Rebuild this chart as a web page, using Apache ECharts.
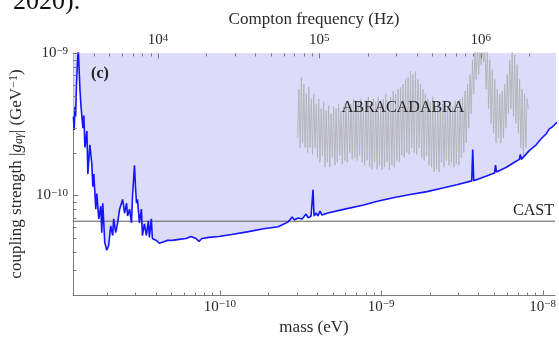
<!DOCTYPE html>
<html><head><meta charset="utf-8">
<script src="https://cdn.jsdelivr.net/npm/echarts@6/dist/echarts.min.js"></script>
<style>html,body{margin:0;padding:0;background:#fff}#c{width:559px;height:341px}</style>
</head><body><div id="c"></div>
<script>
// ---------- data ----------
const massMin = 1.234e-11, massMax = 1.193e-8;   // eV
const gMin = 2e-11, gMax = 1e-9;                 // GeV^-1
const hzPerEv = 2.418e14;                        // Compton frequency per eV
const castLimit = 6.6e-11;

const blueMass = [
 1.239e-11,1.253e-11,1.268e-11,1.279e-11,1.295e-11,1.313e-11,1.328e-11,1.360e-11,1.380e-11,1.419e-11,
 1.439e-11,1.460e-11,1.502e-11,1.523e-11,1.567e-11,1.612e-11,1.635e-11,1.658e-11,1.706e-11,1.730e-11,
 1.780e-11,1.831e-11,1.857e-11,1.884e-11,1.938e-11,1.993e-11,2.050e-11,2.110e-11,2.170e-11,2.201e-11,
 2.264e-11,2.329e-11,2.396e-11,2.500e-11,2.572e-11,2.645e-11,2.683e-11,2.760e-11,2.839e-11,2.879e-11,
 2.962e-11,3.004e-11,3.047e-11,3.090e-11,3.179e-11,3.270e-11,3.317e-11,3.412e-11,3.510e-11,3.611e-11,
 3.663e-11,3.768e-11,3.821e-11,4.045e-11,4.220e-11,4.402e-11,4.725e-11,5.072e-11,5.600e-11,6.181e-11,
 6.634e-11,7.120e-11,7.430e-11,7.752e-11,8.556e-11,9.86e-11,1.185e-10,1.507e-10,1.864e-10,2.304e-10,
 2.654e-10,2.809e-10,2.889e-10,3.058e-10,3.236e-10,3.423e-10,3.523e-10,3.675e-10,3.781e-10,3.835e-10,
 3.945e-10,4.058e-10,4.174e-10,4.294e-10,4.673e-10,5.944e-10,7.667e-10,9.483e-10,1.206e-9,1.512e-9,
 1.923e-9,2.446e-9,2.940e-9,3.636e-9,3.688e-9,3.741e-9,4.495e-9,5.034e-9,5.105e-9,5.178e-9,
 5.965e-9,6.682e-9,7.171e-9,7.273e-9,7.377e-9,8.260e-9,9.12e-9,9.788e-9,1.050e-8,1.096e-8,
 1.144e-8,1.193e-8,1.262e-8
];
const blueCoupling = [
 3.59e-10,2.88e-10,4.20e-10,3.59e-10,6.04e-10,8.68e-10,1.08e-9,5.58e-10,4.27e-10,2.97e-10,
 3.64e-10,2.17e-10,2.83e-10,1.415e-10,2.27e-10,1.656e-10,1.152e-10,1.415e-10,8.02e-11,1.032e-10,
 6.85e-11,8.41e-11,5.49e-11,8.82e-11,4.69e-11,4.13e-11,4.47e-11,6.13e-11,5.24e-11,6.85e-11,
 5.49e-11,6.43e-11,8.02e-11,9.39e-11,7.53e-11,8.82e-11,7.18e-11,8.02e-11,6.43e-11,9.84e-11,
 1.631e-10,1.152e-10,8.82e-11,9.39e-11,6.43e-11,8.02e-11,5.24e-11,6.33e-11,5.24e-11,6.64e-11,
 5.08e-11,6.85e-11,4.99e-11,4.84e-11,4.62e-11,4.69e-11,4.84e-11,4.84e-11,4.92e-11,4.99e-11,
 5.16e-11,4.99e-11,4.77e-11,4.99e-11,5.08e-11,5.16e-11,5.32e-11,5.58e-11,5.85e-11,6.04e-11,
 6.53e-11,7.07e-11,6.74e-11,6.96e-11,6.85e-11,7.41e-11,6.96e-11,7.18e-11,1.099e-10,7.18e-11,
 7.53e-11,7.18e-11,7.77e-11,7.29e-11,7.53e-11,8.02e-11,8.54e-11,9.10e-11,9.69e-11,1.016e-10,
 1.065e-10,1.134e-10,1.190e-10,1.267e-10,2.099e-10,1.267e-10,1.371e-10,1.437e-10,1.631e-10,1.460e-10,
 1.579e-10,1.710e-10,1.792e-10,1.940e-10,1.792e-10,2.066e-10,2.270e-10,2.50e-10,2.70e-10,2.92e-10,
 3.02e-10,3.16e-10,3.36e-10
];

const abraMass = [
 3.035e-10,3.089e-10,3.146e-10,3.202e-10,3.258e-10,3.316e-10,3.376e-10,3.436e-10,3.498e-10,3.560e-10,
 3.623e-10,3.688e-10,3.753e-10,3.820e-10,3.889e-10,3.958e-10,4.029e-10,4.101e-10,4.174e-10,4.248e-10,
 4.324e-10,4.401e-10,4.480e-10,4.560e-10,4.642e-10,4.725e-10,4.808e-10,4.894e-10,4.982e-10,5.071e-10,
 5.162e-10,5.254e-10,5.347e-10,5.442e-10,5.540e-10,5.639e-10,5.740e-10,5.842e-10,5.946e-10,6.052e-10,
 6.160e-10,6.270e-10,6.382e-10,6.496e-10,6.612e-10,6.730e-10,6.851e-10,6.973e-10,7.096e-10,7.223e-10,
 7.352e-10,7.483e-10,7.617e-10,7.753e-10,7.891e-10,8.032e-10,8.176e-10,8.322e-10,8.470e-10,8.621e-10,
 8.775e-10,8.932e-10,9.091e-10,9.253e-10,9.417e-10,9.585e-10,9.756e-10,9.930e-10,1.011e-9,1.029e-9,
 1.047e-9,1.066e-9,1.085e-9,1.104e-9,1.124e-9,1.144e-9,1.165e-9,1.186e-9,1.206e-9,1.228e-9,
 1.250e-9,1.272e-9,1.295e-9,1.318e-9,1.341e-9,1.365e-9,1.390e-9,1.415e-9,1.440e-9,1.466e-9,
 1.492e-9,1.519e-9,1.545e-9,1.573e-9,1.601e-9,1.630e-9,1.659e-9,1.689e-9,1.718e-9,1.749e-9,
 1.780e-9,1.812e-9,1.844e-9,1.877e-9,1.910e-9,1.944e-9,1.979e-9,2.014e-9,2.050e-9,2.087e-9,
 2.124e-9,2.162e-9,2.201e-9,2.240e-9,2.280e-9,2.321e-9,2.362e-9,2.404e-9,2.448e-9,2.492e-9,
 2.535e-9,2.580e-9,2.627e-9,2.674e-9,2.722e-9,2.771e-9,2.819e-9,2.869e-9,2.921e-9,2.973e-9,
 3.027e-9,3.081e-9,3.135e-9,3.191e-9,3.248e-9,3.306e-9,3.365e-9,3.425e-9,3.487e-9,3.549e-9,
 3.612e-9,3.676e-9,3.742e-9,3.809e-9,3.877e-9,3.946e-9,4.017e-9,4.089e-9,4.161e-9,4.235e-9,
 4.311e-9,4.388e-9,4.467e-9,4.547e-9,4.627e-9,4.710e-9,4.794e-9,4.879e-9,4.966e-9,5.055e-9,
 5.145e-9,5.237e-9,5.331e-9,5.426e-9,5.522e-9,5.620e-9,5.721e-9,5.823e-9,5.927e-9,6.033e-9,
 6.140e-9,6.250e-9,6.361e-9,6.474e-9,6.591e-9,6.709e-9,6.827e-9,6.949e-9,7.073e-9,7.199e-9,
 7.328e-9,7.459e-9,7.593e-9,7.728e-9,7.866e-9,8.006e-9,8.148e-9
];
const abraCoupling = [
 2.54e-10,5.58e-10,2.17e-10,6.74e-10,2.34e-10,6.04e-10,2.17e-10,5.16e-10,2.00e-10,5.76e-10,
 2.17e-10,4.76e-10,1.94e-10,5.16e-10,2.17e-10,4.40e-10,1.85e-10,4.76e-10,1.71e-10,4.07e-10,
 1.91e-10,4.55e-10,1.58e-10,3.94e-10,1.71e-10,4.27e-10,1.58e-10,3.76e-10,1.85e-10,4.20e-10,
 1.63e-10,4.07e-10,1.71e-10,4.40e-10,1.91e-10,3.94e-10,1.66e-10,4.20e-10,1.76e-10,4.55e-10,
 1.71e-10,4.07e-10,2.00e-10,4.40e-10,1.79e-10,4.76e-10,1.85e-10,4.20e-10,1.76e-10,4.55e-10,
 1.91e-10,4.76e-10,1.71e-10,4.27e-10,1.63e-10,4.62e-10,1.76e-10,4.92e-10,1.58e-10,4.40e-10,
 1.53e-10,4.76e-10,1.71e-10,4.55e-10,1.53e-10,4.92e-10,1.63e-10,4.27e-10,1.51e-10,4.76e-10,
 1.58e-10,5.16e-10,1.71e-10,4.62e-10,1.51e-10,4.92e-10,1.63e-10,5.40e-10,1.58e-10,5.16e-10,
 1.76e-10,5.58e-10,1.71e-10,5.76e-10,1.91e-10,6.04e-10,1.85e-10,6.53e-10,2.00e-10,6.74e-10,
 1.94e-10,7.41e-10,2.17e-10,7.07e-10,2.00e-10,7.41e-10,1.94e-10,6.53e-10,2.17e-10,6.04e-10,
 1.85e-10,5.58e-10,1.76e-10,5.16e-10,1.91e-10,4.76e-10,1.63e-10,4.55e-10,1.58e-10,4.92e-10,
 1.46e-10,4.27e-10,1.53e-10,4.55e-10,1.46e-10,4.20e-10,1.71e-10,4.40e-10,1.58e-10,4.07e-10,
 1.76e-10,4.27e-10,1.63e-10,4.55e-10,1.71e-10,4.20e-10,1.58e-10,4.62e-10,1.66e-10,4.40e-10,
 1.63e-10,4.76e-10,1.85e-10,4.92e-10,2.00e-10,5.40e-10,2.34e-10,6.04e-10,2.97e-10,7.07e-10,
 3.76e-10,8.95e-10,5.16e-10,1.048e-9,6.53e-10,1.134e-9,7.07e-10,1.134e-9,8.28e-10,1.134e-9,
 8.68e-10,1.048e-9,5.58e-10,1.016e-9,4.07e-10,8.95e-10,3.21e-10,7.65e-10,2.74e-10,6.53e-10,
 2.34e-10,5.58e-10,2.54e-10,5.16e-10,2.34e-10,5.40e-10,2.54e-10,6.04e-10,2.97e-10,7.07e-10,
 3.76e-10,8.95e-10,4.07e-10,1.016e-9,3.59e-10,9.69e-10,3.21e-10,8.28e-10,2.74e-10,6.53e-10,
 2.17e-10,5.58e-10,1.85e-10,5.16e-10,2.17e-10,4.76e-10,4.07e-10
];

// tick values
const massMajorTicks = [1e-10, 1e-9, 1e-8];
const massMinorTicks = [2e-11,3e-11,4e-11,5e-11,6e-11,7e-11,8e-11,9e-11,
  2e-10,3e-10,4e-10,5e-10,6e-10,7e-10,8e-10,9e-10,
  2e-9,3e-9,4e-9,5e-9,6e-9,7e-9,8e-9,9e-9];
const freqMajorTicks = [1e4, 1e5, 1e6];
const freqMinorTicks = [4e3,5e3,6e3,7e3,8e3,9e3,
  2e4,3e4,4e4,5e4,6e4,7e4,8e4,9e4,
  2e5,3e5,4e5,5e5,6e5,7e5,8e5,9e5, 2e6];
const couplingMajorTicks = [1e-10, 1e-9];
const couplingMinorTicks = [3e-11,4e-11,5e-11,6e-11,7e-11,8e-11,9e-11,
  2e-10,3e-10,4e-10,5e-10,6e-10,7e-10,8e-10,9e-10];

// ---------- chart ----------
const serif = '"Liberation Serif", "DejaVu Serif", serif';
const txt = '#2a2a2a';
const axisCol = '#7a7a7a';

function pow10Label(v) {
  const e = Math.log10(v), r = Math.round(e);
  if (Math.abs(e - r) > 1e-6) return '';
  return '{b|10}{s|' + (r < 0 ? '\u2212' + (-r) : String(r)) + '}';
}
const labelRich = {
  b: { fontSize: 15, fontFamily: serif, color: txt },
  s: { fontSize: 11, fontFamily: serif, color: txt, verticalAlign: 'top' }
};

function tickSeries(vals, side, len) {
  const data = vals.map(v => side === 'bottom' ? [v, gMin] : side === 'top' ? [v, gMax] : [massMin, v]);
  return {
    type: 'custom', xAxisIndex: side === 'top' ? 1 : 0, yAxisIndex: 0, silent: true, z: 6, clip: false,
    data: data,
    renderItem: function (params, api) {
      const p = api.coord([api.value(0), api.value(1)]);
      const x = Math.round(p[0]) + 0.5, y = Math.round(p[1]) + 0.5;
      let shape;
      if (side === 'bottom') shape = { x1: x, y1: y, x2: x, y2: y - len };
      else if (side === 'top') shape = { x1: x, y1: y, x2: x, y2: y + len };
      else shape = { x1: x, y1: y, x2: x + len, y2: y };
      return { type: 'line', shape: shape, style: { stroke: axisCol, lineWidth: 1 } };
    }
  };
}

const chart = echarts.init(document.getElementById('c'), null, { renderer: 'canvas' });
const baseAxis = {
  type: 'log', logBase: 10,
  axisLine: { show: true, lineStyle: { color: axisCol, width: 1 } },
  axisTick: { show: false }, minorTick: { show: false },
  splitLine: { show: false }, minorSplitLine: { show: false },
  nameLocation: 'middle',
  nameTextStyle: { fontFamily: serif, fontSize: 17, color: txt }
};
chart.setOption({
  animation: false,
  backgroundColor: '#ffffff',
  grid: { left: 73, right: 0, top: 53, bottom: 41, containLabel: false },
  xAxis: [
    Object.assign({}, baseAxis, {
      position: 'bottom', min: massMin, max: massMax,
      name: 'mass (eV)', nameGap: 22,
      axisLabel: { formatter: pow10Label, rich: labelRich, margin: 4 }
    }),
    Object.assign({}, baseAxis, {
      position: 'top', min: massMin * hzPerEv, max: massMax * hzPerEv,
      name: 'Compton frequency (Hz)', nameGap: 24,
      axisLabel: { formatter: pow10Label, rich: labelRich, margin: 5 }
    })
  ],
  yAxis: [
    Object.assign({}, baseAxis, {
      min: gMin, max: gMax,
      name: 'coupling strength |{i|g}{sub|a\u03B3}| (GeV{sup|\u22121})', nameGap: 46,
      nameTextStyle: {
        fontFamily: serif, fontSize: 17, color: txt,
        rich: {
          i: { fontFamily: serif, fontSize: 17, fontStyle: 'italic', color: txt },
          sub: { fontFamily: serif, fontSize: 12, fontStyle: 'italic', color: txt, verticalAlign: 'bottom' },
          sup: { fontFamily: serif, fontSize: 12, color: txt, verticalAlign: 'top' }
        }
      },
      axisLabel: { formatter: pow10Label, rich: labelRich, margin: 5 }
    })
  ],
  series: [
    { // excluded region fill
      type: 'line', name: 'fill', z: 1, silent: true, clip: true,
      data: blueMass.map((m, i) => [m, blueCoupling[i]]),
      symbol: 'none', lineStyle: { width: 0, opacity: 0 },
      areaStyle: { origin: 'end', color: 'rgb(220,220,250)', opacity: 1 }
    },
    { // ABRACADABRA projection
      type: 'line', name: 'ABRACADABRA', z: 2, silent: true, clip: true,
      data: abraMass.map((m, i) => [m, abraCoupling[i]]),
      symbol: 'none', lineStyle: { color: '#b2b2b2', width: 0.9 }
    },
    { // CAST limit
      type: 'line', name: 'CAST', z: 3, silent: true, clip: true,
      data: [[massMin, castLimit], [massMax, castLimit]],
      symbol: 'none', lineStyle: { color: '#5a5a5a', width: 1 }
    },
    { // limit curve
      type: 'line', name: 'limit', z: 4, silent: true, clip: true,
      data: blueMass.map((m, i) => [m, blueCoupling[i]]),
      symbol: 'none', lineStyle: { color: '#1414ff', width: 1.6 }
    },
    tickSeries(massMajorTicks, 'bottom', 5),
    tickSeries(massMinorTicks, 'bottom', 3),
    tickSeries(freqMajorTicks, 'top', 5),
    tickSeries(freqMinorTicks, 'top', 3),
    tickSeries(couplingMajorTicks, 'left', 5),
    tickSeries(couplingMinorTicks, 'left', 3)
  ],
  graphic: [
    { type: 'text', z: 20, style: { text: '2020).', x: 13, y: 2, verticalAlign: 'middle', font: '26px ' + serif, fill: '#111' } },
    { type: 'text', z: 20, style: { text: '(c)', x: 100, y: 74, align: 'center', verticalAlign: 'middle', font: 'bold 16px ' + serif, fill: '#222' } },
    { type: 'text', z: 20, style: { text: 'ABRACADABRA', x: 403, y: 108, align: 'center', verticalAlign: 'middle', font: '16px ' + serif, fill: '#222' } },
    { type: 'text', z: 20, style: { text: 'CAST', x: 554, y: 211, align: 'right', verticalAlign: 'middle', font: '16px ' + serif, fill: '#222' } }
  ]
});
</script>
</body></html>
